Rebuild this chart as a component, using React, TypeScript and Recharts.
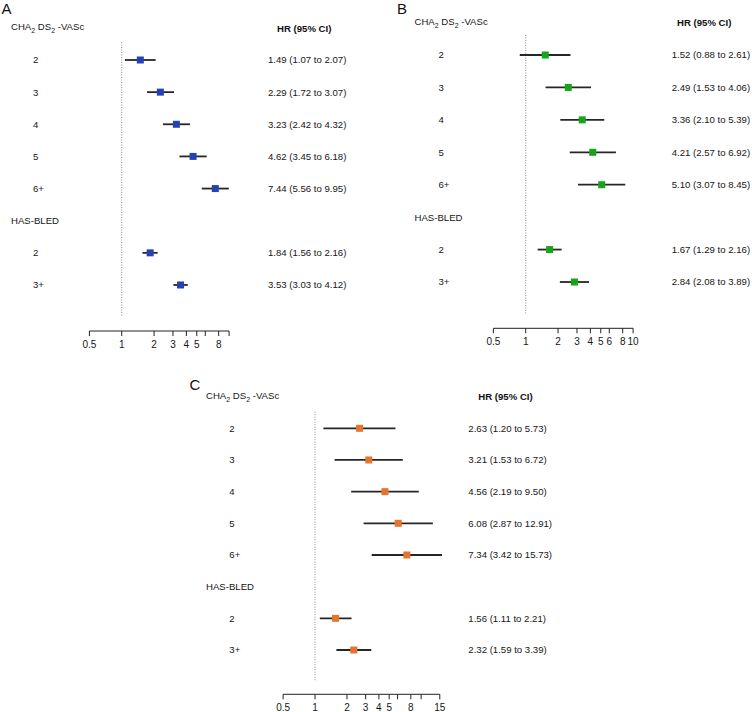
import React from "react";
import { ScatterChart, Scatter, XAxis, YAxis, ErrorBar, ReferenceLine } from "recharts";

const FONT = '"Liberation Sans", Arial, Helvetica, sans-serif';
const W = 752;
const H = 712;

// rows shared by all three panels (index 5 is a group header without data)
const rowLabels = ["2", "3", "4", "5", "6+", "HAS-BLED", "2", "3+"];
const groupRows = [5];

// A
const hrA = [1.49, 2.29, 3.23, 4.62, 7.44, null, 1.84, 3.53];
const loA = [1.07, 1.72, 2.42, 3.45, 5.56, null, 1.56, 3.03];
const hiA = [2.07, 3.07, 4.32, 6.18, 9.95, null, 2.16, 4.12];
const ticksA = [0.5, 1, 2, 3, 4, 5, 6, 8, 10];
const tickLabelsA = [0.5, 1, 2, 3, 4, 5, 8];

// B
const hrB = [1.52, 2.49, 3.36, 4.21, 5.1, null, 1.67, 2.84];
const loB = [0.88, 1.53, 2.1, 2.57, 3.07, null, 1.29, 2.08];
const hiB = [2.61, 4.06, 5.39, 6.92, 8.45, null, 2.16, 3.89];
const ticksB = [0.5, 1, 2, 3, 4, 5, 6, 8, 10];
const tickLabelsB = [0.5, 1, 2, 3, 4, 5, 6, 8, 10];

// C
const hrC = [2.63, 3.21, 4.56, 6.08, 7.34, null, 1.56, 2.32];
const loC = [1.2, 1.53, 2.19, 2.87, 3.42, null, 1.11, 1.59];
const hiC = [5.73, 6.72, 9.5, 12.91, 15.73, null, 2.21, 3.39];
const ticksC = [0.5, 1, 2, 3, 4, 5, 6, 8, 10, 15];
const tickLabelsC = [0.5, 1, 2, 3, 4, 5, 8, 15];

type Layout = {
  plotLeft: number;
  plotRight: number;
  row0: number;
  step: number;
  axisY: number;
  refTop: number;
  refBottom: number;
  headX: number;
  numX: number;
  ciX: number;
  hrX: number;
};

const layoutA: Layout = { plotLeft: 89.4, plotRight: 229.1, row0: 60, step: 32.14, axisY: 331, refTop: 42, refBottom: 317, headX: 11, numX: 33, ciX: 268, hrX: 277 };
const layoutB: Layout = { plotLeft: 493.4, plotRight: 633.1, row0: 55, step: 32.43, axisY: 328.3, refTop: 35, refBottom: 314, headX: 414.5, numX: 438.5, ciX: 671.7, hrX: 677 };
const layoutC: Layout = { plotLeft: 283.1, plotRight: 439.8, row0: 428.3, step: 31.67, axisY: 694.3, refTop: 411.7, refBottom: 681.7, headX: 206, numX: 229.3, ciX: 468.3, hrX: 478.3 };

const fmt = (v: number) => v.toFixed(2);
const TEXT = "#161616";

function Panel({ hr, lo, hi, ticks, tickLabels, color, L }: any) {
  const data = hr
    .map((v: number | null, i: number) => (v == null ? null : { x: v, y: i, err: [v - lo[i], hi[i] - v] }))
    .filter(Boolean);
  const yMin = -1.5;
  const yMax = (L.axisY - L.row0) / L.step;
  const plotTop = L.row0 + yMin * L.step;
  const rows = [-1, ...rowLabels.map((_, i) => i)];

  const leftTick = (p: any) => {
    const v = p.payload.value;
    if (v === -1) {
      return (
        <text x={L.headX} y={p.y - 1} dy="0.35em" fontSize={9.6} fontFamily={FONT} fill={TEXT}>
          CHA
          <tspan dy={3} fontSize={7}>2</tspan>
          <tspan dy={-3}> DS</tspan>
          <tspan dy={3} fontSize={7}>2</tspan>
          <tspan dy={-3}> -VASc</tspan>
        </text>
      );
    }
    const isGroup = groupRows.includes(v);
    return (
      <text x={isGroup ? L.headX : L.numX} y={p.y} dy="0.35em" fontSize={9.6} fontFamily={FONT} fill={TEXT}>
        {rowLabels[v]}
      </text>
    );
  };

  const rightTick = (p: any) => {
    const v = p.payload.value;
    if (v === -1) {
      return (
        <text x={L.hrX} y={p.y + 0.5} dy="0.35em" fontSize={9.6} fontWeight="bold" fontFamily={FONT} fill="#111">
          HR (95% CI)
        </text>
      );
    }
    if (hr[v] == null) return <g />;
    return (
      <text x={L.ciX} y={p.y} dy="0.35em" fontSize={9.6} fontFamily={FONT} fill={TEXT}>
        {`${fmt(hr[v])} (${fmt(lo[v])} to ${fmt(hi[v])})`}
      </text>
    );
  };

  const square = (p: any) => (
    <rect x={p.cx - 3.5} y={p.cy - 3.5} width={7} height={7} fill={color} />
  );

  return (
    <div style={{ position: "absolute", left: 0, top: 0 }}>
      <ScatterChart width={W} height={H} margin={{ top: plotTop, right: 0, bottom: 0, left: 0 }}>
        <XAxis
          type="number"
          dataKey="x"
          scale="log"
          domain={[ticks[0], ticks[ticks.length - 1]]}
          allowDataOverflow
          ticks={ticks}
          interval={0}
          tickFormatter={(v: number) => (tickLabels.includes(v) ? String(v) : "")}
          height={H - L.axisY}
          tickSize={5}
          tickMargin={5}
          stroke="#222"
          tick={{ fontSize: 10, fill: TEXT, fontFamily: FONT }}
        />
        <YAxis
          yAxisId="left"
          type="number"
          dataKey="y"
          domain={[yMin, yMax]}
          reversed
          allowDataOverflow
          ticks={rows}
          interval={0}
          width={L.plotLeft}
          axisLine={false}
          tickLine={false}
          tick={leftTick}
        />
        <YAxis
          yAxisId="right"
          orientation="right"
          type="number"
          domain={[yMin, yMax]}
          reversed
          allowDataOverflow
          ticks={rows}
          interval={0}
          width={W - L.plotRight}
          axisLine={false}
          tickLine={false}
          tick={rightTick}
        />
        <ReferenceLine
          yAxisId="left"
          segment={[
            { x: 1, y: (L.refTop - L.row0) / L.step },
            { x: 1, y: (L.refBottom - L.row0) / L.step },
          ]}
          stroke="#8a8a8a"
          strokeDasharray="1 1.5"
        />
        <Scatter yAxisId="left" data={data} isAnimationActive={false} shape={() => <g />}>
          <ErrorBar dataKey="err" direction="x" width={0} stroke="#262626" strokeWidth={1.8} />
        </Scatter>
        <Scatter yAxisId="left" data={data} isAnimationActive={false} fill={color} shape={square} />
      </ScatterChart>
    </div>
  );
}

export default function App() {
  return (
    <div style={{ position: "absolute", left: 0, top: 0, width: W, height: H, background: "#fff" }}>
      <Panel hr={hrA} lo={loA} hi={hiA} ticks={ticksA} tickLabels={tickLabelsA} color="#2343b4" L={layoutA} />
      <Panel hr={hrB} lo={loB} hi={hiB} ticks={ticksB} tickLabels={tickLabelsB} color="#18a418" L={layoutB} />
      <Panel hr={hrC} lo={loC} hi={hiC} ticks={ticksC} tickLabels={tickLabelsC} color="#e6742f" L={layoutC} />
      <svg width={W} height={H} style={{ position: "absolute", left: 0, top: 0, pointerEvents: "none" }}>
        <text x={1.5} y={13.5} fontSize={15} fontFamily={FONT} fill="#111">A</text>
        <text x={397} y={13.5} fontSize={15} fontFamily={FONT} fill="#111">B</text>
        <text x={189.5} y={390} fontSize={15} fontFamily={FONT} fill="#111">C</text>
      </svg>
    </div>
  );
}
